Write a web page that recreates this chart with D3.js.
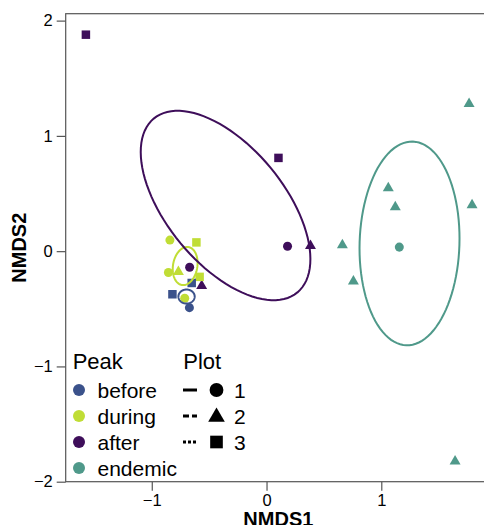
<!DOCTYPE html>
<html>
<head>
<meta charset="utf-8">
<script src="https://cdn.jsdelivr.net/npm/d3@7"></script>
<style>
body { margin: 0; background: #fff; }
text { font-family: "Liberation Sans", Arial, Helvetica, sans-serif; fill: #000; }
</style>
</head>
<body>
<div id="chart"></div>
<script>
// NMDS scores
var peaks = ['before', 'during', 'after', 'endemic']
var peakColors = ['#3B528B', '#C0DD35', '#3E0E5A', '#4F998A']
var plots = ['1', '2', '3']

var ptPeak = ['after', 'after', 'after', 'after', 'after', 'after',
    'during', 'during', 'during', 'during', 'during', 'during',
    'before', 'before', 'before',
    'endemic', 'endemic', 'endemic', 'endemic', 'endemic', 'endemic', 'endemic', 'endemic']
var ptPlot = ['3', '3', '1', '2', '1', '2',
    '1', '3', '1', '2', '3', '1',
    '3', '3', '1',
    '2', '2', '2', '2', '2', '1', '2', '2']
var ptX = [-1.574, 0.104, 0.183, 0.383, -0.67, -0.565,
    -0.842, -0.611, -0.855, -0.768, -0.583, -0.713,
    -0.82, -0.652, -0.672,
    1.765, 1.061, 1.122, 1.791, 0.661, 1.157, 0.757, 1.643]
var ptY = [1.878, 0.809, 0.043, 0.046, -0.14, -0.30,
    0.096, 0.076, -0.185, -0.18, -0.223, -0.409,
    -0.374, -0.276, -0.49,
    1.278, 0.548, 0.383, 0.40, 0.052, 0.035, -0.261, -1.823]

// one ellipse per peak: centre, semi axes, angle (degrees)
var ellX = [-0.697, -0.709, -0.357, 1.246]
var ellY = [-0.394, -0.129, 0.396, 0.067]
var ellA = [0.071, 0.167, 0.98, 0.884]
var ellB = [0.061, 0.106, 0.511, 0.435]
var ellAngle = [0, 80, -50.3, 88.2]

var xTicks = [-1, 0, 1]
var yTicks = [-2, -1, 0, 1, 2]

var width = 484, height = 525
var pLeft = 65.7, pRight = 491, pTop = 13.7, pBottom = 481.7

var svg = d3.select('#chart').append('svg')
    .attr('width', width)
    .attr('height', height)

var x = d3.scaleLinear().domain([-1.75, 1.956]).range([pLeft, pRight])
var y = d3.scaleLinear().domain([-2, 2.06]).range([pBottom, pTop])
var color = d3.scaleOrdinal().domain(peaks).range(peakColors)
var shape = d3.scaleOrdinal().domain(plots).range([d3.symbolCircle, d3.symbolTriangle, d3.symbolSquare])
var shapeSize = { '1': 64, '2': 52, '3': 72 }

var fmt = function (d) { return d < 0 ? '\u2212' + Math.abs(d) : d }

// axes
svg.append('g').attr('transform', `translate(0,${pBottom})`)
    .call(d3.axisBottom(x).tickValues(xTicks).tickSize(9).tickPadding(4).tickFormat(fmt))
svg.append('g').attr('transform', `translate(${pLeft},0)`)
    .call(d3.axisLeft(y).tickValues(yTicks).tickSize(9).tickPadding(4).tickFormat(fmt))
svg.selectAll('.domain').remove()
svg.selectAll('.tick line').attr('stroke', '#555').attr('stroke-width', 1.2)
svg.selectAll('.tick text').style('font-size', '16.5px').attr('fill', '#000')

// panel border
svg.append('rect')
    .attr('x', pLeft).attr('y', pTop)
    .attr('width', pRight - pLeft).attr('height', pBottom - pTop)
    .attr('fill', 'none').attr('stroke', '#555').attr('stroke-width', 1.2)

// points
svg.append('g').selectAll('path')
    .data(ptX.map(function (d, i) { return i }))
    .enter()
    .append('path')
    .attr('transform', function (i) { return `translate(${x(ptX[i])},${y(ptY[i])})` })
    .attr('d', function (i) { return d3.symbol().type(shape(ptPlot[i])).size(shapeSize[ptPlot[i]])() })
    .attr('fill', function (i) { return color(ptPeak[i]) })

// ellipses
var line = d3.line().x(function (d) { return x(d[0]) }).y(function (d) { return y(d[1]) })
var steps = d3.range(0, 101).map(function (k) { return k / 100 * 2 * Math.PI })
svg.append('g').selectAll('path')
    .data(peaks)
    .enter()
    .append('path')
    .attr('d', function (p, i) {
        var th = ellAngle[i] * Math.PI / 180
        return line(steps.map(function (t) {
            var u = ellA[i] * Math.cos(t), v = ellB[i] * Math.sin(t)
            return [ellX[i] + u * Math.cos(th) - v * Math.sin(th), ellY[i] + u * Math.sin(th) + v * Math.cos(th)]
        }))
    })
    .attr('fill', 'none')
    .attr('stroke', function (p) { return color(p) })
    .attr('stroke-width', 2)

// axis titles
svg.append('text')
    .attr('x', (pLeft + pRight) / 2).attr('y', 526)
    .attr('text-anchor', 'middle')
    .style('font-size', '20px').style('font-weight', 'bold')
    .text('NMDS1')
svg.append('text')
    .attr('transform', `translate(26,${(pTop + pBottom) / 2}) rotate(-90)`)
    .attr('text-anchor', 'middle')
    .style('font-size', '20px').style('font-weight', 'bold')
    .text('NMDS2')

// legend: Peak
var legY = 390, legStep = 26
var lg = svg.append('g')
lg.append('text').attr('x', 72.7).attr('y', 369.3).style('font-size', '22px').text('Peak')
peaks.forEach(function (p, i) {
    lg.append('circle').attr('cx', 79).attr('cy', legY + i * legStep).attr('r', 6).attr('fill', color(p))
    lg.append('text').attr('x', 97.5).attr('y', legY + i * legStep + 7.5)
        .style('font-size', '21px').text(p)
})

// legend: Plot
var dashes = ['none', '6,3', '3,2']
lg.append('text').attr('x', 183.3).attr('y', 369.3).style('font-size', '22px').text('Plot')
plots.forEach(function (p, i) {
    var cy = legY + i * legStep
    lg.append('line').attr('x1', 183).attr('x2', 197).attr('y1', cy).attr('y2', cy)
        .attr('stroke', '#000').attr('stroke-width', 3).attr('stroke-dasharray', dashes[i])
    lg.append('path').attr('transform', `translate(216.5,${cy + (p === '2' ? 1 : 0)})`)
        .attr('d', d3.symbol().type(shape(p)).size([150, 120, 160][i])())
        .attr('fill', '#000')
    lg.append('text').attr('x', 234).attr('y', cy + 7.5).style('font-size', '21px').text(p)
})
</script>
</body>
</html>
